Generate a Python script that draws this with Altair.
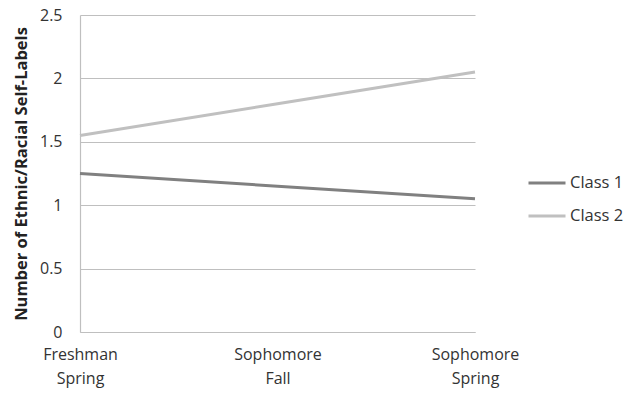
import altair as alt
import pandas as pd

# Mean number of ethnic/racial self-labels per latent class over three waves
waves = ["Freshman Spring", "Sophomore Fall", "Sophomore Spring"]
class_1 = [1.25, 1.15, 1.05]
class_2 = [1.55, 1.80, 2.05]

rows = []
for name, vals in [("Class 1", class_1), ("Class 2", class_2)]:
    for w, v in zip(waves, vals):
        rows.append({"wave": w, "series": name, "value": v})
df = pd.DataFrame(rows)

font = "Open Sans"

chart = alt.Chart(df).mark_line(strokeWidth=3).encode(
    x=alt.X(
        "wave:N",
        sort=waves,
        scale=alt.Scale(type="point", padding=0),
        axis=alt.Axis(
            title=None,
            labelAngle=0,
            labelExpr="split(datum.label, ' ')",
            labelFontSize=16,
            labelFont=font,
            labelColor="#333333",
            labelPadding=14,
            labelLineHeight=24,
            ticks=False,
            grid=False,
            domainColor="#bfbfbf",
            domainWidth=1.2,
        ),
    ),
    y=alt.Y(
        "value:Q",
        scale=alt.Scale(domain=[0, 2.5]),
        axis=alt.Axis(
            title="Number of Ethnic/Racial  Self-Labels",
            titleFont=font,
            titleFontSize=16.5,
            titleFontWeight="bold",
            titleColor="#222222",
            titlePadding=10,
            values=[0, 0.5, 1, 1.5, 2, 2.5],
            format="~g",
            labelFontSize=16,
            labelFont=font,
            labelColor="#333333",
            labelPadding=18,
            ticks=False,
            gridColor="#bfbfbf",
            gridWidth=1.2,
            domainColor="#bfbfbf",
            domainWidth=1.2,
        ),
    ),
    color=alt.Color(
        "series:N",
        scale=alt.Scale(domain=["Class 1", "Class 2"], range=["#808080", "#c0c0c0"]),
        legend=alt.Legend(
            title=None,
            orient="none",
            legendX=447,
            legendY=148,
            symbolType="stroke",
            symbolSize=1369,
            symbolStrokeWidth=3,
            labelFont=font,
            labelFontSize=16.5,
            labelColor="#333333",
            rowPadding=4,
            labelOffset=3,
        ),
    ),
).properties(
    width=395,
    height=317,
    padding={"left": 80, "top": 15, "right": 151, "bottom": 65},
    autosize=alt.AutoSizeParams(type="none"),
).configure_view(stroke=None)

chart.save("out.html", embed_options={"renderer": "svg", "actions": False})
